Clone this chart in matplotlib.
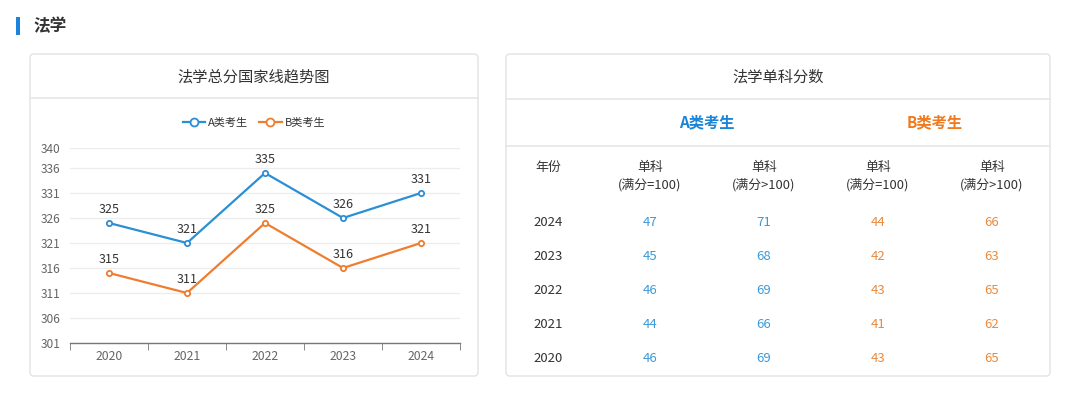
import matplotlib
matplotlib.use("Agg")
import matplotlib.pyplot as plt
from matplotlib.patches import FancyBboxPatch, Rectangle

plt.rcParams['font.family'] = ['Noto Sans CJK SC', 'DejaVu Sans']

# ---- data ----
years = ["2020", "2021", "2022", "2023", "2024"]
a_total = [325, 321, 335, 326, 331]
b_total = [315, 311, 325, 316, 321]
y_ticks = [301, 306, 311, 316, 321, 326, 331, 336, 340]

table_years = ["2024", "2023", "2022", "2021", "2020"]
a_eq100 = [47, 45, 46, 44, 46]
a_gt100 = [71, 68, 69, 66, 69]
b_eq100 = [44, 42, 43, 41, 43]
b_gt100 = [66, 63, 65, 62, 65]

section_title = "法学"
chart_title = "法学总分国家线趋势图"
table_title = "法学单科分数"
series_names = ["A类考生", "B类考生"]
col_headers = ["年份", "单科\n(满分=100)", "单科\n(满分>100)", "单科\n(满分=100)", "单科\n(满分>100)"]

BLUE = "#2b8fd6"
ORANGE = "#ef7d2f"
TXT = "#333333"
GRAY = "#666666"

W, H = 1080, 395
fig = plt.figure(figsize=(W / 100, H / 100), dpi=100)
fig.patch.set_facecolor("white")

# overlay axis in pixel coordinates
ov = fig.add_axes([0, 0, 1, 1])
ov.set_xlim(0, W)
ov.set_ylim(H, 0)
ov.axis("off")

# section header
ov.add_patch(Rectangle((16, 17), 4, 18, color="#1a84dc", lw=0))
ov.text(33, 26, section_title, fontsize=12, fontweight="bold", color=TXT, va="center", ha="left")

# cards
def card(x0, y0, x1, y1, sep_y):
    ov.add_patch(FancyBboxPatch((x0, y0), x1 - x0, y1 - y0,
                                boxstyle="round,pad=0,rounding_size=4",
                                fc="white", ec="#e3e3e3", lw=1.0))
    for s in sep_y:
        ov.plot([x0, x1], [s, s], color="#e6e6e6", lw=1.2)

card(30, 54, 478, 376, [98])
card(506, 54, 1050, 376, [99, 146])

ov.text(254, 77, chart_title, fontsize=11, color=TXT, ha="center", va="center")
ov.text(778, 77, table_title, fontsize=11, color=TXT, ha="center", va="center")

# ---- line chart ----
px0, px1, py_top, py_bot = 70, 460, 148, 343
ax = fig.add_axes([px0 / W, (H - py_bot) / H, (px1 - px0) / W, (py_bot - py_top) / H])
ax.set_facecolor("none")
xs = list(range(len(years)))
la, = ax.plot(xs, a_total, color=BLUE, lw=1.6, marker="o", ms=3.8, mfc="white", mec=BLUE, mew=1.3, label=series_names[0], zorder=3)
lb, = ax.plot(xs, b_total, color=ORANGE, lw=1.6, marker="o", ms=3.8, mfc="white", mec=ORANGE, mew=1.3, label=series_names[1], zorder=3)
for x, v in zip(xs, a_total):
    ax.annotate(str(v), (x, v), xytext=(0, 5), textcoords="offset points", ha="center", va="bottom", fontsize=9, color=TXT)
for x, v in zip(xs, b_total):
    ax.annotate(str(v), (x, v), xytext=(0, 5), textcoords="offset points", ha="center", va="bottom", fontsize=9, color=TXT)

ax.set_xlim(-0.5, len(years) - 0.5)
ax.set_ylim(y_ticks[0], y_ticks[-1])
ax.set_yticks(y_ticks)
ax.set_yticklabels([str(t) for t in y_ticks])
ax.set_xticks(xs)
ax.set_xticklabels(years)
ax.set_xticks([i - 0.5 for i in range(len(years) + 1)], minor=True)
ax.tick_params(axis="x", which="major", length=0, pad=5, labelsize=8.8, labelcolor=GRAY)
ax.tick_params(axis="x", which="minor", length=5, color="#777777", direction="out")
ax.tick_params(axis="y", length=0, pad=7, labelsize=8.6, labelcolor=GRAY)
ax.grid(axis="y", color="#ececec", lw=0.9)
ax.set_axisbelow(True)
for s in ["top", "right", "left"]:
    ax.spines[s].set_visible(False)
ax.spines["bottom"].set_color("#777777")
ax.spines["bottom"].set_linewidth(1.0)

leg = fig.legend(handles=[la, lb], loc="center", bbox_to_anchor=(254 / W, (H - 123) / H),
                 ncol=2, frameon=False, fontsize=8, handlelength=2.0, columnspacing=1.0,
                 handletextpad=0.3, markerscale=1.5)
for t in leg.get_texts():
    t.set_color(TXT)

# ---- table ----
col_x = [548, 650, 764, 878, 992]
ov.text((col_x[1] + col_x[2]) / 2, 122, series_names[0], fontsize=11, fontweight="bold", color="#1a84d6", ha="center", va="center")
ov.text((col_x[3] + col_x[4]) / 2, 122, series_names[1], fontsize=11, fontweight="bold", color="#ef7a1f", ha="center", va="center")

ov.text(col_x[0], 167, col_headers[0], fontsize=9.3, color=TXT, ha="center", va="center")
for cx, hd in zip(col_x[1:], col_headers[1:]):
    l1, l2 = hd.split("\n")
    ov.text(cx, 167, l1, fontsize=9.3, color=TXT, ha="center", va="center")
    ov.text(cx, 185, l2, fontsize=9.3, color=TXT, ha="center", va="center")

row_y = [222, 256, 290, 324, 358]
for i, yr in enumerate(table_years):
    y = row_y[i]
    ov.text(col_x[0], y, yr, fontsize=9.5, color=TXT, ha="center", va="center")
    ov.text(col_x[1], y, str(a_eq100[i]), fontsize=9.5, color="#3b99d8", ha="center", va="center")
    ov.text(col_x[2], y, str(a_gt100[i]), fontsize=9.5, color="#3b99d8", ha="center", va="center")
    ov.text(col_x[3], y, str(b_eq100[i]), fontsize=9.5, color="#ea8a3c", ha="center", va="center")
    ov.text(col_x[4], y, str(b_gt100[i]), fontsize=9.5, color="#ea8a3c", ha="center", va="center")

fig.savefig("out.png", dpi=100, facecolor="white")
